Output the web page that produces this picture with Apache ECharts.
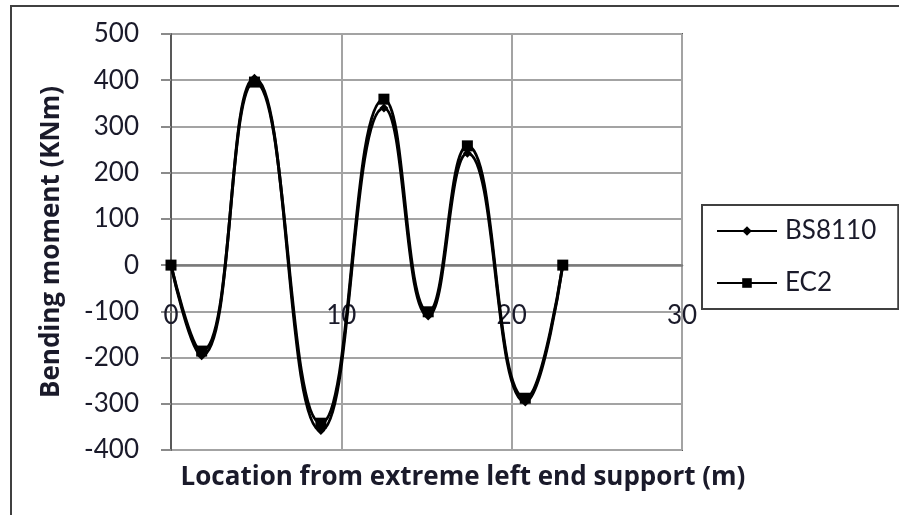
<!DOCTYPE html>
<html>
<head>
<meta charset="utf-8">
<script src="https://cdn.jsdelivr.net/npm/echarts@6/dist/echarts.min.js"></script>
<style>
html,body{margin:0;padding:0;background:#fff;}
#chart{width:899px;height:515px;}
</style>
</head>
<body>
<div id="chart"></div>
<script>
// ---- data ----
var seriesNames = ['BS8110', 'EC2'];
var locations = [0, 1.8, 4.9, 8.8, 12.5, 15.1, 17.4, 20.8, 23.0];
var bsMoment = [0, -196, 404, -358, 340, -110, 242, -296, 0];
var ecMoment = [0, -186, 396, -342, 359, -101, 258, -288, 0];
var xTicks = [0, 10, 20, 30];
var yTicks = [-400, -300, -200, -100, 0, 100, 200, 300, 400, 500];
var xTitle = 'Location from extreme left end support (m)';
var yTitle = 'Bending moment (KNm)';

function pairs(xs, ys) { return xs.map(function (x, i) { return [x, ys[i]]; }); }

var FONT = 'Lato';
var TFONT = 'Open Sans';
var TXT = '#1a1a2a';
var chart = echarts.init(document.getElementById('chart'), null, {renderer: 'canvas'});
chart.setOption({
  animation: false,
  backgroundColor: '#ffffff',
  graphic: [{
    type: 'rect', left: 10, top: 5, z: -10,
    shape: {x: 0, y: 0, width: 1000, height: 1000},
    style: {fill: '#ffffff', stroke: '#404040', lineWidth: 2}
  }],
  title: {
    text: xTitle, left: 458, top: 460, textAlign: 'center',
    textStyle: {fontFamily: TFONT, fontSize: 26, fontWeight: 'bold', color: TXT}
  },
  grid: {left: 171, right: 217, top: 34, bottom: 65, show: true, borderColor: '#595959', borderWidth: 2, backgroundColor: 'transparent'},
  legend: {
    orient: 'vertical', left: 702, top: 205,
    padding: [13, 22, 13, 14], itemGap: 26, itemWidth: 60, itemHeight: 12,
    borderColor: '#404040', borderWidth: 2, backgroundColor: '#fff',
    textStyle: {fontFamily: FONT, fontSize: 26, color: TXT, padding: [0, 0, 0, 3]},
    data: seriesNames
  },
  xAxis: {
    type: 'value', min: xTicks[0], max: xTicks[xTicks.length - 1], interval: 10,
    position: 'bottom', offset: -185,
    axisLine: {onZero: false, lineStyle: {color: '#7a7a7a', width: 2.5}},
    axisTick: {show: false},
    axisLabel: {margin: 38, fontFamily: FONT, fontSize: 26, color: TXT},
    splitLine: {show: true, lineStyle: {color: '#a3a3a3', width: 2}}
  },
  yAxis: {
    type: 'value', min: yTicks[0], max: yTicks[yTicks.length - 1], interval: 100,
    name: yTitle, nameLocation: 'middle', nameGap: 106, nameRotate: 90,
    nameTextStyle: {fontFamily: TFONT, fontSize: 26, fontWeight: 'bold', color: TXT},
    axisLine: {show: true, onZero: false, lineStyle: {color: '#595959', width: 2}},
    axisTick: {show: true, inside: false, length: 10, lineStyle: {color: '#8a8a8a', width: 2}},
    axisLabel: {margin: 32, fontFamily: FONT, fontSize: 26, color: TXT},
    splitLine: {show: true, lineStyle: {color: '#a3a3a3', width: 2}}
  },
  series: [{
    name: seriesNames[0], type: 'line', smooth: 0.5,
    data: pairs(locations, bsMoment),
    symbol: 'diamond', symbolSize: 9, showSymbol: true,
    itemStyle: {color: '#000'}, lineStyle: {color: '#000', width: 3}
  }, {
    name: seriesNames[1], type: 'line', smooth: 0.5,
    data: pairs(locations, ecMoment),
    symbol: 'rect', symbolSize: 11,
    itemStyle: {color: '#000'}, lineStyle: {color: '#000', width: 3}
  }]
});
</script>
</body>
</html>
